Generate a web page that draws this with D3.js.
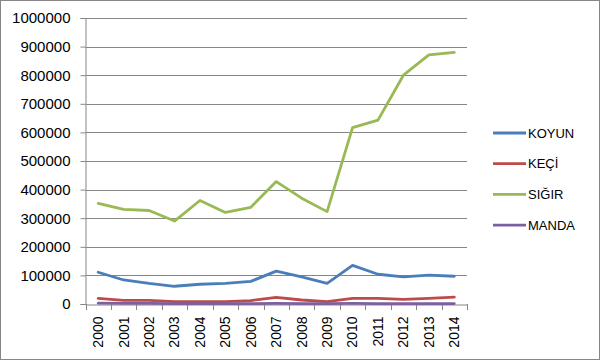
<!DOCTYPE html>
<html><head><meta charset="utf-8">
<script src="https://cdn.jsdelivr.net/npm/d3@7"></script>
<style>body{margin:0;background:#fff}svg{display:block}</style>
</head><body><svg id="c" width="600" height="360"></svg>
<script>
const years = ["2000","2001","2002","2003","2004","2005","2006","2007","2008","2009","2010","2011","2012","2013","2014"];
const koyun = [111000,84000,72000,62000,69000,72000,79000,115000,95000,72000,135000,104000,95000,101000,97000];
const keci  = [20000,13000,13000,8000,8000,8000,12000,23000,14000,8000,20000,20000,16000,20000,24000];
const sigir = [352000,331000,327000,290000,362000,320000,338000,428000,370000,323000,617000,643000,800000,871000,880000];
const manda = [3000,2000,2000,1500,1500,1500,1500,2000,1500,1500,2000,1500,1500,1500,1500];
const yTicks = [0,100000,200000,300000,400000,500000,600000,700000,800000,900000,1000000];
const seriesNames = ["KOYUN","KEÇİ","SIĞIR","MANDA"];
const seriesColors = ["#4A7EBB","#BE4B48","#98B954","#7D60A0"];
const seriesData = [koyun, keci, sigir, manda];

const svg = d3.select("#c");
const font = "'Liberation Sans', Arial, sans-serif";
svg.append("rect").attr("x",0.5).attr("y",0.5).attr("width",599).attr("height",359)
  .attr("fill","#fff").attr("stroke","#868686");

const L = 85.5, R = 467, T = 18, B = 304;
const x = d3.scaleBand().domain(years).range([L, R]);
const y = d3.scaleLinear().domain([0, 1000000]).range([B, T]);

// gridlines
svg.append("g").selectAll("line").data(yTicks.slice(1)).join("line")
  .attr("x1", L).attr("x2", R)
  .attr("y1", d => Math.round(y(d)) + 0.5).attr("y2", d => Math.round(y(d)) + 0.5)
  .attr("stroke", "#868686").attr("stroke-width", 1);

// y axis
const ya = svg.append("g").attr("transform", `translate(${L},0)`)
  .call(d3.axisLeft(y).tickValues(yTicks).tickSize(5).tickPadding(10).tickFormat(d3.format("d")));
ya.select(".domain").attr("stroke", "#868686");
ya.selectAll(".tick line").attr("stroke", "#868686");
ya.selectAll(".tick text").attr("font-family", font).attr("font-size", 15).attr("fill", "#000");

// x axis
const xa = svg.append("g").attr("transform", `translate(0,${B + 0.5})`)
  .call(d3.axisBottom(x).tickSize(0).tickPadding(0));
xa.select(".domain").attr("stroke", "#868686");
xa.selectAll(".tick text")
  .attr("font-family", font).attr("font-size", 14).attr("fill", "#000")
  .attr("text-anchor", "end").attr("dy", "0.35em")
  .attr("transform", "translate(0,12) rotate(-90)").attr("x", 0).attr("y", 0);
// band boundary ticks
const bounds = years.map(d => x(d)).concat([R]);
svg.append("g").selectAll("line").data(bounds).join("line")
  .attr("x1", d => Math.round(d) + 0.5).attr("x2", d => Math.round(d) + 0.5)
  .attr("y1", B).attr("y2", B + 6).attr("stroke", "#868686");

// series lines
const line = d3.line().x((d, i) => x(years[i]) + x.bandwidth() / 2).y(d => y(d));
seriesData.forEach((s, k) => {
  svg.append("path").datum(s).attr("d", line).attr("fill", "none")
    .attr("stroke", seriesColors[k]).attr("stroke-width", 2.8)
    .attr("stroke-linejoin", "round").attr("stroke-linecap", "round");
});

// legend
const lg = svg.append("g");
seriesNames.forEach((n, k) => {
  const yy = 133 + k * 30.7;
  lg.append("line").attr("x1", 493).attr("x2", 526).attr("y1", yy).attr("y2", yy)
    .attr("stroke", seriesColors[k]).attr("stroke-width", 2.8);
  lg.append("text").attr("x", 528).attr("y", yy).attr("dy", "0.35em")
    .attr("font-family", font).attr("font-size", 13).attr("fill", "#000").text(n);
});
</script></body></html>
